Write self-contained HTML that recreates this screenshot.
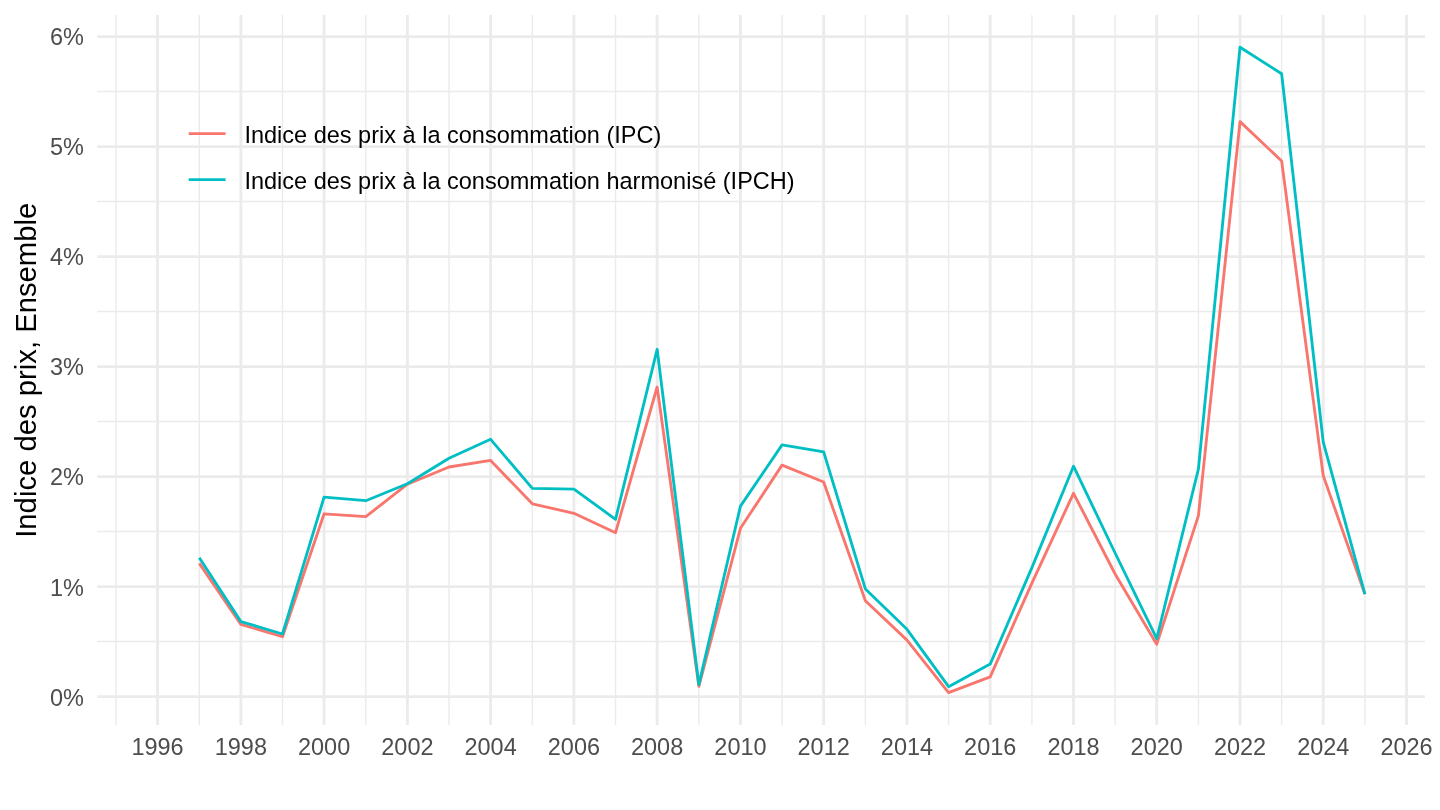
<!DOCTYPE html>
<html lang="fr"><head><meta charset="utf-8"><title>Indice des prix, Ensemble</title>
<style>html,body{margin:0;padding:0;background:#fff;overflow:hidden}svg{display:block}text{font-family:"Liberation Sans",Arial,Helvetica,sans-serif}.ax{font-size:23.47px;fill:#4D4D4D}.lg{font-size:23.53px;fill:#000}.yt{font-size:29.27px;fill:#000}</style></head><body>
<svg width="1440" height="810" viewBox="0 0 1440 810">
<rect width="1440" height="810" fill="#fff"/>
<g stroke="#EBEBEB" stroke-width="1.42" fill="none">
<line x1="97.24" x2="1425.0" y1="641.56" y2="641.56"/>
<line x1="97.24" x2="1425.0" y1="531.56" y2="531.56"/>
<line x1="97.24" x2="1425.0" y1="421.56" y2="421.56"/>
<line x1="97.24" x2="1425.0" y1="311.56" y2="311.56"/>
<line x1="97.24" x2="1425.0" y1="201.56" y2="201.56"/>
<line x1="97.24" x2="1425.0" y1="91.56" y2="91.56"/>
<line x1="115.96" x2="115.96" y1="15.0" y2="724.9"/>
<line x1="199.28" x2="199.28" y1="15.0" y2="724.9"/>
<line x1="282.48" x2="282.48" y1="15.0" y2="724.9"/>
<line x1="365.80" x2="365.80" y1="15.0" y2="724.9"/>
<line x1="449.01" x2="449.01" y1="15.0" y2="724.9"/>
<line x1="532.33" x2="532.33" y1="15.0" y2="724.9"/>
<line x1="615.53" x2="615.53" y1="15.0" y2="724.9"/>
<line x1="698.85" x2="698.85" y1="15.0" y2="724.9"/>
<line x1="782.06" x2="782.06" y1="15.0" y2="724.9"/>
<line x1="865.38" x2="865.38" y1="15.0" y2="724.9"/>
<line x1="948.59" x2="948.59" y1="15.0" y2="724.9"/>
<line x1="1031.91" x2="1031.91" y1="15.0" y2="724.9"/>
<line x1="1115.11" x2="1115.11" y1="15.0" y2="724.9"/>
<line x1="1198.43" x2="1198.43" y1="15.0" y2="724.9"/>
<line x1="1281.64" x2="1281.64" y1="15.0" y2="724.9"/>
<line x1="1364.96" x2="1364.96" y1="15.0" y2="724.9"/>
</g>
<g stroke="#EBEBEB" stroke-width="2.85" fill="none">
<line x1="97.24" x2="1425.0" y1="696.56" y2="696.56"/>
<line x1="97.24" x2="1425.0" y1="586.56" y2="586.56"/>
<line x1="97.24" x2="1425.0" y1="476.56" y2="476.56"/>
<line x1="97.24" x2="1425.0" y1="366.56" y2="366.56"/>
<line x1="97.24" x2="1425.0" y1="256.56" y2="256.56"/>
<line x1="97.24" x2="1425.0" y1="146.56" y2="146.56"/>
<line x1="97.24" x2="1425.0" y1="36.56" y2="36.56"/>
<line x1="157.56" x2="157.56" y1="15.0" y2="724.9"/>
<line x1="240.88" x2="240.88" y1="15.0" y2="724.9"/>
<line x1="324.09" x2="324.09" y1="15.0" y2="724.9"/>
<line x1="407.41" x2="407.41" y1="15.0" y2="724.9"/>
<line x1="490.61" x2="490.61" y1="15.0" y2="724.9"/>
<line x1="573.93" x2="573.93" y1="15.0" y2="724.9"/>
<line x1="657.14" x2="657.14" y1="15.0" y2="724.9"/>
<line x1="740.46" x2="740.46" y1="15.0" y2="724.9"/>
<line x1="823.66" x2="823.66" y1="15.0" y2="724.9"/>
<line x1="906.98" x2="906.98" y1="15.0" y2="724.9"/>
<line x1="990.19" x2="990.19" y1="15.0" y2="724.9"/>
<line x1="1073.51" x2="1073.51" y1="15.0" y2="724.9"/>
<line x1="1156.71" x2="1156.71" y1="15.0" y2="724.9"/>
<line x1="1240.03" x2="1240.03" y1="15.0" y2="724.9"/>
<line x1="1323.24" x2="1323.24" y1="15.0" y2="724.9"/>
<line x1="1406.56" x2="1406.56" y1="15.0" y2="724.9"/>
</g>
<polyline points="199.28,563.40 240.88,624.40 282.48,636.70 324.09,513.80 365.80,516.70 407.41,484.20 449.01,467.00 490.61,460.40 532.33,503.80 573.93,513.30 615.53,532.70 657.14,387.00 698.85,686.30 740.46,528.30 782.06,465.10 823.66,482.00 865.38,600.70 906.98,640.10 948.59,692.60 990.19,676.80 1031.91,583.10 1073.51,493.30 1115.11,574.00 1156.71,644.20 1198.43,515.60 1240.03,121.60 1281.64,161.00 1323.24,475.60 1364.96,594.30" fill="none" stroke="#F8766D" stroke-width="2.85" stroke-linejoin="round" stroke-linecap="butt"/>
<polyline points="199.28,557.70 240.88,621.60 282.48,634.00 324.09,497.10 365.80,500.70 407.41,483.80 449.01,458.20 490.61,439.30 532.33,488.40 573.93,489.10 615.53,519.30 657.14,349.30 698.85,684.60 740.46,506.10 782.06,444.90 823.66,451.80 865.38,588.90 906.98,629.30 948.59,686.70 990.19,664.10 1031.91,567.60 1073.51,466.20 1115.11,553.00 1156.71,638.70 1198.43,468.90 1240.03,47.20 1281.64,73.80 1323.24,442.20 1364.96,594.20" fill="none" stroke="#00BFC4" stroke-width="2.85" stroke-linejoin="round" stroke-linecap="butt"/>
<line x1="188.7" x2="225.6" y1="133.55" y2="133.55" stroke="#F8766D" stroke-width="2.85"/>
<line x1="188.7" x2="225.6" y1="179.63" y2="179.63" stroke="#00BFC4" stroke-width="2.85"/>
<text class="lg" x="244.4" y="143.0">Indice des prix à la consommation (IPC)</text>
<text class="lg" x="244.4" y="189.1">Indice des prix à la consommation harmonisé (IPCH)</text>
<text class="ax" text-anchor="end" x="83.8" y="706.06">0%</text>
<text class="ax" text-anchor="end" x="83.8" y="596.06">1%</text>
<text class="ax" text-anchor="end" x="83.8" y="485.06">2%</text>
<text class="ax" text-anchor="end" x="83.8" y="375.06">3%</text>
<text class="ax" text-anchor="end" x="83.8" y="265.06">4%</text>
<text class="ax" text-anchor="end" x="83.8" y="155.06">5%</text>
<text class="ax" text-anchor="end" x="83.8" y="45.06">6%</text>
<text class="ax" text-anchor="middle" x="157.56" y="755.1">1996</text>
<text class="ax" text-anchor="middle" x="240.88" y="755.1">1998</text>
<text class="ax" text-anchor="middle" x="324.09" y="755.1">2000</text>
<text class="ax" text-anchor="middle" x="407.41" y="755.1">2002</text>
<text class="ax" text-anchor="middle" x="490.61" y="755.1">2004</text>
<text class="ax" text-anchor="middle" x="573.93" y="755.1">2006</text>
<text class="ax" text-anchor="middle" x="657.14" y="755.1">2008</text>
<text class="ax" text-anchor="middle" x="740.46" y="755.1">2010</text>
<text class="ax" text-anchor="middle" x="823.66" y="755.1">2012</text>
<text class="ax" text-anchor="middle" x="906.98" y="755.1">2014</text>
<text class="ax" text-anchor="middle" x="990.19" y="755.1">2016</text>
<text class="ax" text-anchor="middle" x="1073.51" y="755.1">2018</text>
<text class="ax" text-anchor="middle" x="1156.71" y="755.1">2020</text>
<text class="ax" text-anchor="middle" x="1240.03" y="755.1">2022</text>
<text class="ax" text-anchor="middle" x="1323.24" y="755.1">2024</text>
<text class="ax" text-anchor="middle" x="1406.56" y="755.1">2026</text>
<text class="yt" text-anchor="middle" transform="translate(35.5,370.25) rotate(-90)">Indice des prix, Ensemble</text>
</svg></body></html>
